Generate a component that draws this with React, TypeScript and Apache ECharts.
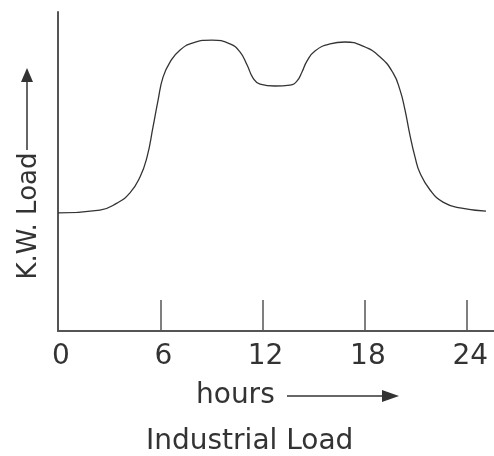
import React, { useEffect, useRef } from "react";
import * as echarts from "echarts";

const hours = [0, 2.46, 3.46, 4.22, 4.81, 5.22, 5.57, 5.87, 6.16, 6.57, 7.16, 7.92, 9.03, 10.09, 10.67, 11.09, 11.44, 11.85, 12.73, 13.61, 14.02, 14.31, 14.6, 15.07, 15.95, 16.83, 17.89, 18.89, 19.65, 20.06, 20.35, 20.64, 20.94, 21.23, 21.82, 22.58, 23.58, 25.1];
const load = [37.0, 37.9, 40.1, 43.3, 48.3, 54.5, 63.9, 72.4, 79.6, 84.3, 88.1, 90.3, 91.2, 90.0, 87.5, 83.4, 79.3, 77.4, 76.8, 77.1, 78.4, 81.2, 84.6, 87.8, 90.0, 90.6, 89.3, 85.9, 80.9, 75.5, 69.3, 61.4, 54.5, 49.5, 44.2, 40.4, 38.6, 37.6];
const xTicks = [0, 6, 12, 18, 24];
const xAxisMax = 25.57;
const yAxisMax = 100;
const yAxisTitle = "K.W. Load";
const xAxisTitle = "hours";
const chartTitle = "Industrial Load";

export default function App() {
  const ref = useRef<HTMLDivElement>(null);
  useEffect(() => {
    const chart = echarts.init(ref.current!, null, { renderer: "svg" });
    const axisColor = "#555";
    const textColor = "#333";
    chart.setOption({
      animation: false,
      textStyle: { fontFamily: "DejaVu Sans" },
      title: {
        text: chartTitle,
        left: 146,
        top: 425,
        padding: 0,
        textStyle: { fontSize: 28, fontWeight: "normal", color: textColor, fontFamily: "DejaVu Sans" },
      },
      grid: { left: 58, right: 0, top: 12, bottom: 125 },
      xAxis: {
        type: "value",
        min: 0,
        max: xAxisMax,
        interval: 6,
        axisLine: { show: true, lineStyle: { color: axisColor, width: 2 } },
        axisTick: { show: true, inside: true, length: 31, customValues: xTicks, lineStyle: { color: axisColor, width: 1.5 } },
        axisLabel: { customValues: xTicks, fontSize: 28, color: textColor, margin: 9, fontFamily: "DejaVu Sans", padding: [0, 0, 0, 6] },
        splitLine: { show: false },
      },
      yAxis: {
        type: "value",
        min: 0,
        max: yAxisMax,
        axisLine: { show: true, lineStyle: { color: axisColor, width: 2 } },
        axisTick: { show: false },
        axisLabel: { show: false },
        splitLine: { show: false },
      },
      series: [
        {
          type: "line",
          data: hours.map((h, i) => [h, load[i]]),
          smooth: 0.5,
          symbol: "none",
          lineStyle: { color: "#333", width: 1.3 },
        },
      ],
      graphic: [
        {
          type: "text",
          x: 196,
          y: 393,
          style: { text: xAxisTitle, fontSize: 28, fontFamily: "DejaVu Sans", fill: textColor, verticalAlign: "middle", align: "left" },
        },
        { type: "line", shape: { x1: 287, y1: 396, x2: 385, y2: 396 }, style: { stroke: "#333", lineWidth: 1.5 } },
        { type: "polygon", shape: { points: [[382, 390], [399, 396], [382, 402]] }, style: { fill: "#333" } },
        {
          type: "text",
          x: 27,
          y: 216,
          rotation: Math.PI / 2,
          style: { text: yAxisTitle, fontSize: 26, fontFamily: "DejaVu Sans", fill: textColor, verticalAlign: "middle", align: "center" },
        },
        { type: "line", shape: { x1: 27, y1: 150, x2: 27, y2: 80 }, style: { stroke: "#333", lineWidth: 1.5 } },
        { type: "polygon", shape: { points: [[21, 82], [27, 68], [33, 82]] }, style: { fill: "#333" } },
      ],
    });
    return () => chart.dispose();
  }, []);
  return <div ref={ref} style={{ position: "fixed", left: 0, top: 0, width: 494, height: 456 }} />;
}
